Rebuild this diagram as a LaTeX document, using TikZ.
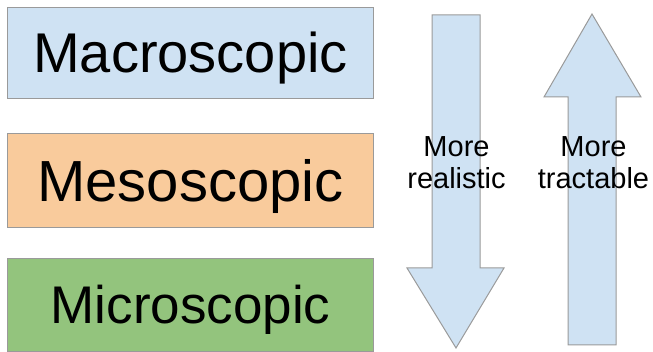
\documentclass[tikz,border=0pt]{standalone}
\usepackage{fontspec}
\setmainfont{Liberation Sans}
\definecolor{macroblue}{HTML}{CFE2F3}
\definecolor{mesoorange}{HTML}{F9CB9C}
\definecolor{microgreen}{HTML}{93C47D}
\definecolor{edgegray}{HTML}{9A9A9A}
\begin{document}
\begin{tikzpicture}[x=1pt,y=-1pt,
  scalebox/.style={draw=edgegray,line width=1pt,minimum width=366pt,inner sep=0pt,anchor=north west,text depth=0pt},
  arrowshape/.style={draw=edgegray,line width=1pt,fill=macroblue,line join=miter},
  arrowlabel/.style={align=center,font=\fontsize{29}{32}\selectfont,inner sep=0pt}]
\useasboundingbox (0,0) rectangle (653,352);
% three modelling levels (text centred on its capital height)
\node[scalebox,fill=macroblue,minimum height=91pt,text height=40pt,font=\fontsize{56}{60}\selectfont] (macro) at (7,7) {Macroscopic};
\node[scalebox,fill=mesoorange,minimum height=94pt,text height=41.5pt,font=\fontsize{58}{62}\selectfont] (meso) at (7,133) {Mesoscopic};
\node[scalebox,fill=microgreen,minimum height=93pt,text height=38pt,font=\fontsize{53}{57}\selectfont] (micro) at (7,258) {Microscopic};
% downward block arrow
\draw[arrowshape] (432,15) -- (480,15) -- (480,268) -- (504,268) -- (456,348) -- (407,268) -- (432,268) -- cycle;
% upward block arrow
\draw[arrowshape] (592,14) -- (641,97) -- (616,97) -- (616,345) -- (568,345) -- (568,97) -- (544,97) -- cycle;
\node[arrowlabel] (real) at (456.5,163) {More\\realistic};
\node[arrowlabel] (tract) at (593.5,163) {More\\tractable};
\end{tikzpicture}
\end{document}
